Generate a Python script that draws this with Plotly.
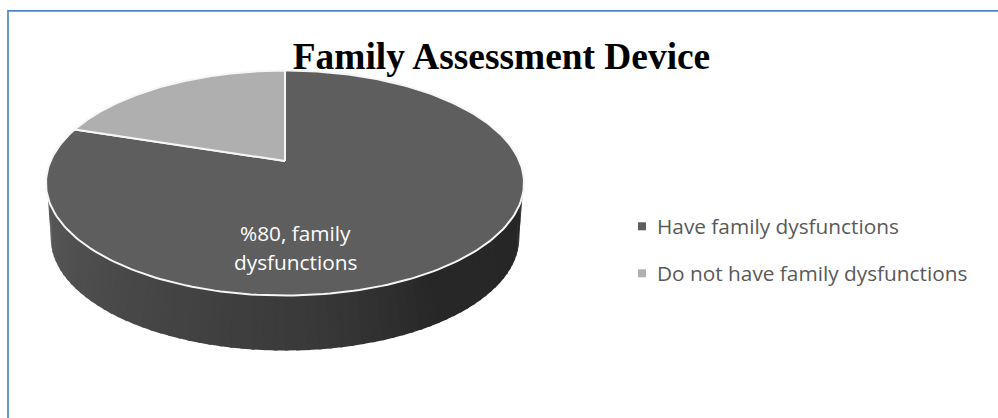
import numpy as np
import plotly.graph_objects as go

# Survey shares, percent
categories = ["Have family dysfunctions", "Do not have family dysfunctions"]
values = [80, 20]
slice_colors = ["#5e5e5e", "#afafaf"]
chart_title = "Family Assessment Device"
label_lines = [f"%{values[0]}, family", "dysfunctions"]

# Perspective model of the disc, in canvas units
CX, CY = 285.0, 161.0
RX, RY = 234.4, 108.2
TILT = 0.196
DEPTH = 55.0
WIDTH, HEIGHT = 998, 418


def project(theta, drop=0.0, scale=1.0):
    """Map clockwise-from-top angles on the unit disc to canvas coordinates."""
    u, v = np.sin(theta), np.cos(theta)
    w = 1 + TILT * v
    return CX + scale * RX * u / w, CY - RY * v / w + drop


def lerp_color(stops, t):
    pos = [s[0] for s in stops]
    return "rgb(%d,%d,%d)" % tuple(
        round(np.interp(t, pos, [s[1][i] for s in stops])) for i in range(3)
    )


fig = go.Figure()

# Side wall: thin strips shaded from left to right. The upper edge starts
# below the silhouette so the wall tapers into the rim at both ends.
WALL_STOPS = [
    (0.0, (88, 88, 88)),
    (0.3, (70, 70, 70)),
    (0.55, (56, 56, 56)),
    (0.72, (39, 39, 39)),
    (1.0, (38, 38, 38)),
]
N_STRIPS = 70
top_angles = np.linspace(np.radians(251.7), np.radians(108.3), N_STRIPS + 1)
low_angles = np.linspace(np.radians(258.7), np.radians(101.3), N_STRIPS + 1)
for i, t in enumerate(np.linspace(0, 1, N_STRIPS)):
    # small overlap hides the seams between neighbouring strips
    arc_top = np.linspace(top_angles[i], top_angles[i + 1] - 0.012, 5)
    arc_low = np.linspace(low_angles[i], low_angles[i + 1] - 0.012, 5)
    xt, yt = project(arc_top)
    xb, yb = project(arc_low[::-1], drop=DEPTH, scale=0.98)
    fig.add_trace(go.Scatter(
        x=np.r_[xt, xb], y=np.r_[yt, yb], mode="lines", fill="toself",
        fillcolor=lerp_color(WALL_STOPS, t), line=dict(width=0),
        hoverinfo="skip", showlegend=False,
    ))

# Top face: one wedge per category, first wedge starting at twelve o'clock
edges = np.cumsum([0] + values) / sum(values) * 2 * np.pi
for name, color, a0, a1 in zip(categories, slice_colors, edges[:-1], edges[1:]):
    arc = np.linspace(a0, a1, 240)
    x, y = project(arc)
    fig.add_trace(go.Scatter(
        x=np.r_[CX, x, CX], y=np.r_[CY, y, CY], mode="lines", fill="toself",
        fillcolor=color, line=dict(color="#f6f6f6", width=2),
        name=name, showlegend=False, hoverinfo="name",
    ))

# Key on the right
KEY_X, KEY_TEXT_X = 642, 654.5
KEY_Y = [226.3, 273.3]
KEY_TEXT_Y = [225.5, 272.5]
for name, color, y in zip(categories, slice_colors, KEY_Y):
    fig.add_trace(go.Scatter(
        x=[KEY_X], y=[y], mode="markers", name=name, showlegend=False,
        marker=dict(symbol="square", size=8, color=color),
        hoverinfo="name",
    ))

annotations = [
    dict(x=KEY_TEXT_X, y=y, text=name, showarrow=False, xanchor="left", yanchor="middle",
         font=dict(family="Open Sans", size=20.8, color="#595959"))
    for name, y in zip(categories, KEY_TEXT_Y)
]
annotations += [
    dict(x=295.5, y=y, text=line, showarrow=False, xanchor="center", yanchor="middle",
         font=dict(family="Open Sans", size=20.8, color="#ffffff"))
    for line, y in zip(label_lines, [232.5, 261.5])
]

fig.update_layout(
    width=WIDTH, height=HEIGHT, margin=dict(l=0, r=0, t=0, b=0),
    paper_bgcolor="#ffffff", plot_bgcolor="#ffffff", showlegend=False,
    title=dict(
        text=f"<b>{chart_title}</b>", x=501.5 / WIDTH, xanchor="center",
        y=1 - 56 / HEIGHT, yanchor="middle",
        font=dict(family="Liberation Serif", size=37.4, color="#000000"),
    ),
    xaxis=dict(range=[0, WIDTH], visible=False, fixedrange=True),
    yaxis=dict(range=[HEIGHT, 0], visible=False, fixedrange=True),
    annotations=annotations,
    shapes=[dict(type="path", path="M 8 418 L 8 10.8 L 998 10.8",
                 line=dict(color="#4f86c6", width=1.7))],
)

fig.write_html("out.html", config=dict(displayModeBar=False))
